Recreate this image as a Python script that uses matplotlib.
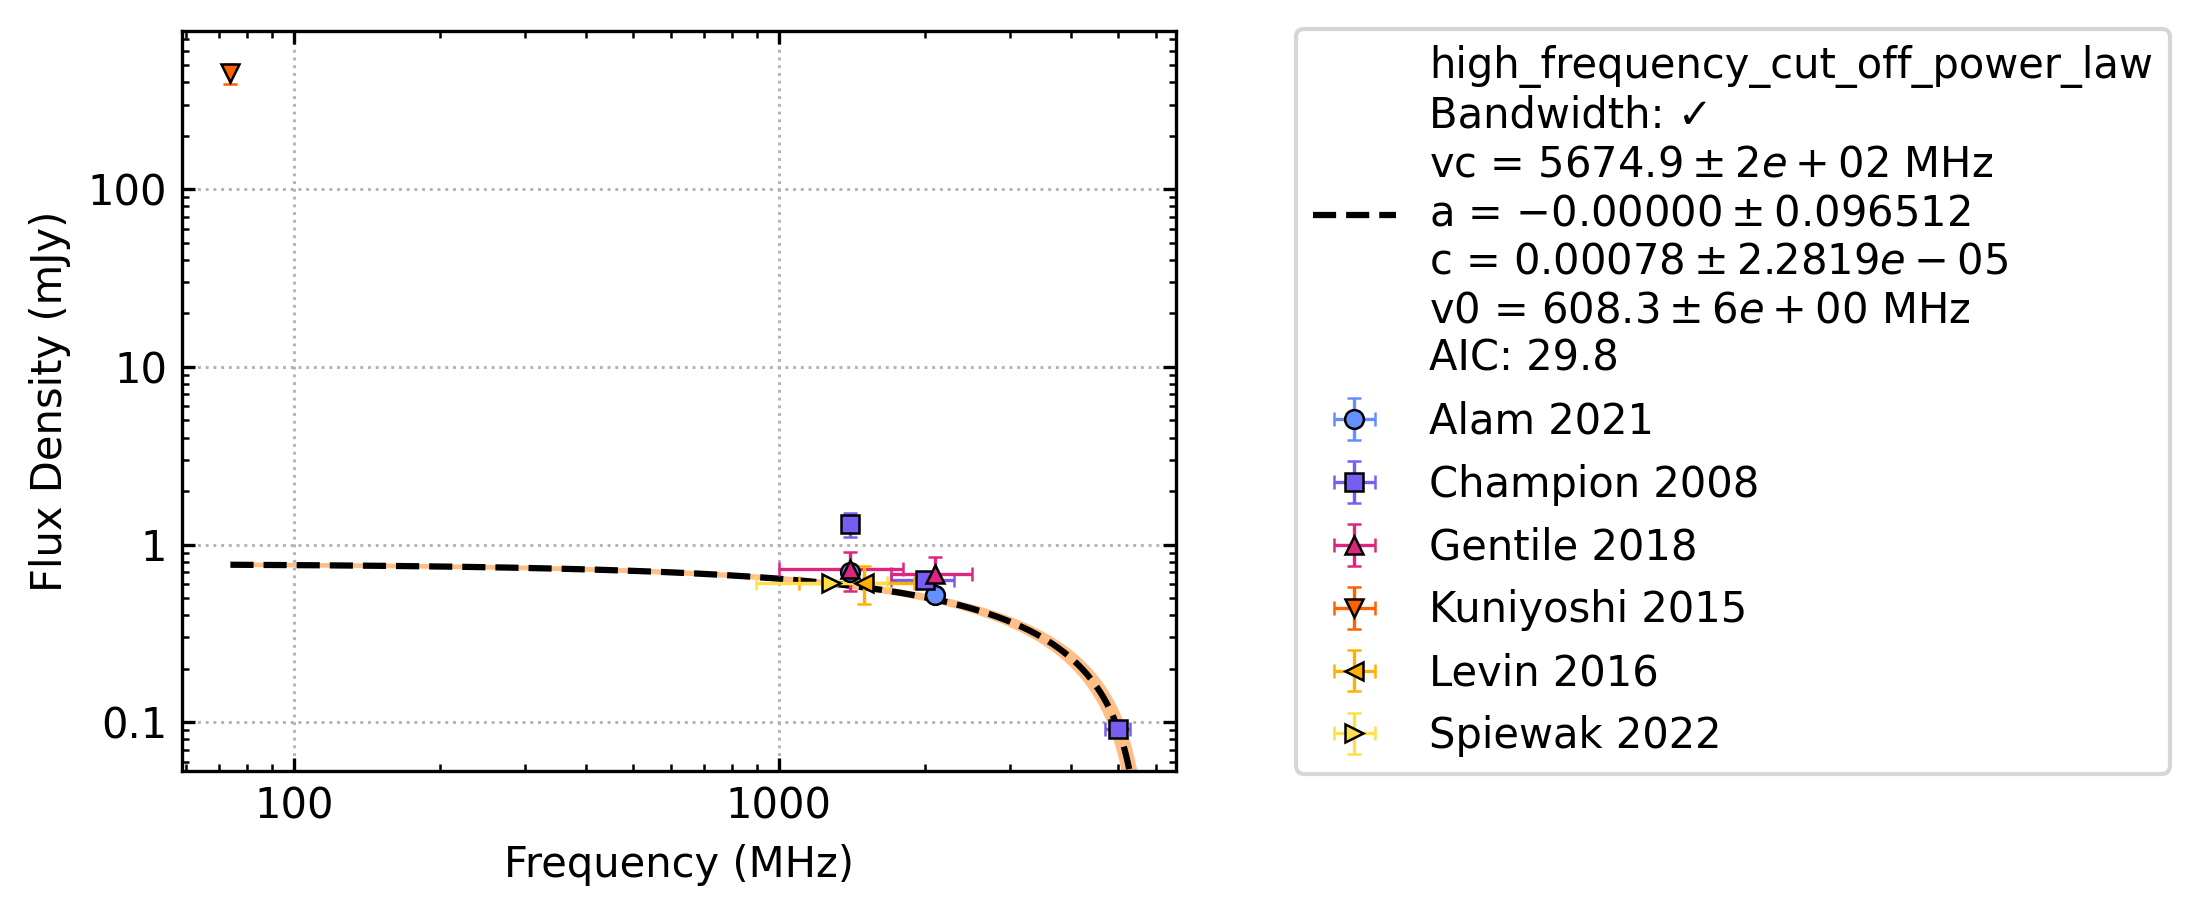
import numpy as np
import matplotlib
matplotlib.use("Agg")
import matplotlib.pyplot as plt
from matplotlib.ticker import FuncFormatter, LogLocator

# survey data: frequency (MHz), flux (mJy) and errors
labels = ["Alam 2021", "Champion 2008", "Gentile 2018", "Kuniyoshi 2015", "Levin 2016", "Spiewak 2022"]
colors = ["#648FFF", "#785EF0", "#DC267F", "#FE6100", "#FFB000", "#FFE04A"]
markers = ["o", "s", "^", "v", "<", ">"]

alam_freq = [1400, 2100]
alam_flux = [0.70, 0.52]
alam_ferr = [0, 0]
alam_serr = [0.03, 0.02]

champion_freq = [1400, 2000, 5000]
champion_flux = [1.30, 0.63, 0.091]
champion_ferr = [0, 300, 300]
champion_serr = [0.20, 0.03, 0.005]

gentile_freq = [1400, 2100]
gentile_flux = [0.73, 0.68]
gentile_ferr = [400, 400]
gentile_serr = [0.18, 0.17]

kuniyoshi_freq = [74]
kuniyoshi_flux = [450]
kuniyoshi_ferr = [0]
kuniyoshi_serr = [60]

levin_freq = [1500]
levin_flux = [0.61]
levin_ferr = [400]
levin_serr = [0.15]

spiewak_freq = [1284]
spiewak_flux = [0.61]
spiewak_ferr = [387.5]
spiewak_serr = [0.02]

# fit parameters (from the legend)
vc, vc_err = 5674.9, 200.0
a_fit, a_err = -0.00000, 0.096512
c_fit, c_err = 0.00078, 2.2819e-05
v0, v0_err = 608.3, 6.0
aic = 29.8

freqs = [alam_freq, champion_freq, gentile_freq, kuniyoshi_freq, levin_freq, spiewak_freq]
fluxes = [alam_flux, champion_flux, gentile_flux, kuniyoshi_flux, levin_flux, spiewak_flux]
ferrs = [alam_ferr, champion_ferr, gentile_ferr, kuniyoshi_ferr, levin_ferr, spiewak_ferr]
serrs = [alam_serr, champion_serr, gentile_serr, kuniyoshi_serr, levin_serr, spiewak_serr]


def hfco(nu, c, vcut):
    return c * 1000 * (nu / v0) ** a_fit * (1 - nu / vcut)


plt.rcParams["font.size"] = 10
plt.rcParams["axes.linewidth"] = 0.8

fig = plt.figure(figsize=(2198 / 300, 917 / 300), dpi=300)
ax = fig.add_axes([0.0828, 0.159, 0.535 - 0.0828, 0.966 - 0.159])

nu = np.geomspace(74, vc * 0.99999, 600)
lo = hfco(nu, c_fit - c_err, vc - vc_err)
hi = hfco(nu, c_fit + c_err, vc + vc_err)
ax.fill_between(nu, np.clip(lo, 1e-6, None), hi, color="C1", alpha=0.5, linewidth=0, zorder=1)

fit_label = (
    "high_frequency_cut_off_power_law\n"
    "Bandwidth: \u2713\n"
    r"vc = $5674.9 \pm 2e+02$ MHz" "\n"
    r"a = $-0.00000 \pm 0.096512$" "\n"
    r"c = $0.00078 \pm 2.2819e-05$" "\n"
    r"v0 = $608.3 \pm 6e+00$ MHz" "\n"
    f"AIC: {aic}"
)
ax.plot(nu, hfco(nu, c_fit, vc), "k--", lw=1.5, label=fit_label, zorder=2)

for lab, col, mk, f, s, fe, se in zip(labels, colors, markers, freqs, fluxes, ferrs, serrs):
    ax.errorbar(f, s, xerr=fe, yerr=se, fmt=mk, color=col, ms=4.5, mfc=col,
                mec="black", mew=0.6, elinewidth=0.8, capsize=1.6, capthick=0.8,
                label=lab, zorder=3)

ax.set_xscale("log")
ax.set_yscale("log")
ax.set_xlim(58.8, 6590)
ax.set_ylim(0.053, 776)

fmt = FuncFormatter(lambda v, p: f"{v:g}")
ax.xaxis.set_major_formatter(fmt)
ax.yaxis.set_major_formatter(fmt)
ax.xaxis.set_minor_locator(LogLocator(base=10, subs=np.arange(2, 10)))
ax.yaxis.set_minor_locator(LogLocator(base=10, subs=np.arange(2, 10)))
ax.tick_params(which="both", direction="in", top=True, right=True)
ax.tick_params(which="major", length=3.2, width=0.8)
ax.tick_params(which="minor", length=1.6, width=0.6)
ax.grid(True, which="major", linestyle=":", color="0.7", linewidth=0.7)

ax.set_xlabel("Frequency (MHz)")
ax.set_ylabel("Flux Density (mJy)")

ax.legend(loc="center left", bbox_to_anchor=(1.1, 0.5))

fig.savefig("out.png", dpi=300)
